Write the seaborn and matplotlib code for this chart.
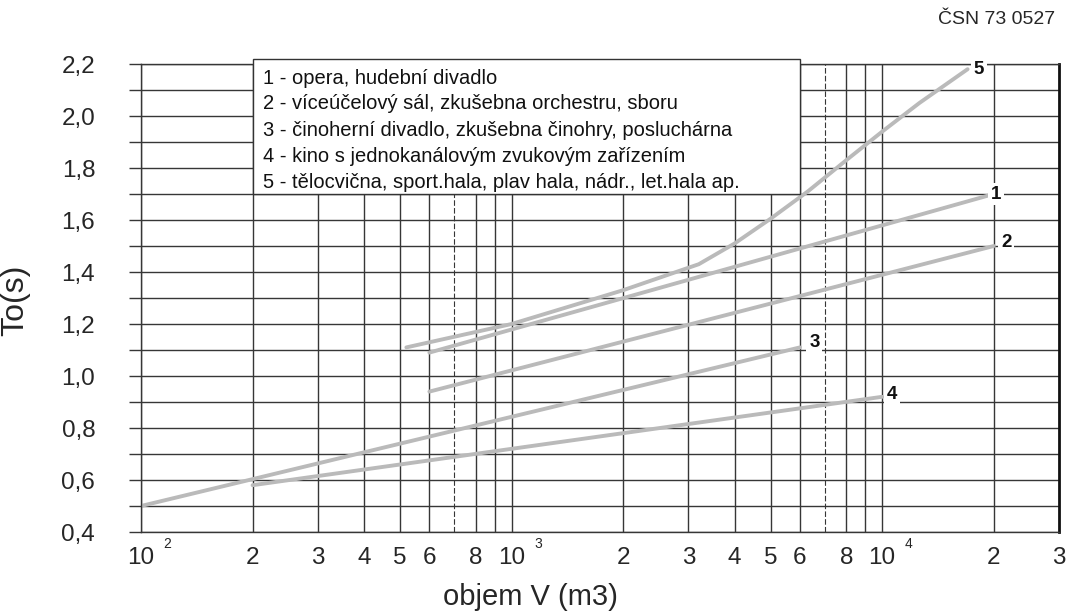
import numpy as np
import pandas as pd
import matplotlib
matplotlib.use("Agg")
import matplotlib.pyplot as plt
import seaborn as sns
from matplotlib.patches import Rectangle

# ---------------- data ----------------
curve_ids = ["1", "2", "3", "4", "5"]
curve_names = [
    "1 - opera, hudební divadlo",
    "2 - víceúčelový sál, zkušebna orchestru, sboru",
    "3 - činoherní divadlo, zkušebna činohry, posluchárna",
    "4 - kino s jednokanálovým zvukovým zařízením",
    "5 - tělocvična, sport.hala, plav hala, nádr., let.hala ap.",
]
v1 = [600, 20000]
t1 = [1.09, 1.70]
v2 = [600, 20000]
t2 = [0.94, 1.50]
v3 = [100, 6000]
t3 = [0.50, 1.11]
v4 = [200, 10000]
t4 = [0.58, 0.92]
v5 = [520, 1000, 2000, 3200, 4000, 5000, 6300, 8000, 10000, 12600, 17000]
t5 = [1.11, 1.20, 1.33, 1.43, 1.51, 1.605, 1.71, 1.83, 1.94, 2.05, 2.18]

# label anchor positions for curve numbers
label_v = [20300, 21600, 6560, 10600, 18200]
label_t = [1.70, 1.515, 1.127, 0.927, 2.18]

x_ticks = [100, 200, 300, 400, 500, 600, 800,
           1000, 2000, 3000, 4000, 5000, 6000, 8000,
           10000, 20000, 30000]
x_tick_labels = ["10", "2", "3", "4", "5", "6", "8",
                 "10", "2", "3", "4", "5", "6", "8",
                 "10", "2", "3"]
decade_values = [100, 1000, 10000]
decade_sups = ["2", "3", "4"]
y_ticks = [0.4, 0.6, 0.8, 1.0, 1.2, 1.4, 1.6, 1.8, 2.0, 2.2]
y_tick_labels = ["0,4", "0,6", "0,8", "1,0", "1,2", "1,4", "1,6", "1,8", "2,0", "2,2"]

# ---------------- figure ----------------
sns.set_theme(style="white")
plt.rcParams["font.family"] = ["Liberation Sans", "DejaVu Sans"]

fig = plt.figure(figsize=(10.75, 6.14), dpi=100)
ax = fig.add_axes([141 / 1075, 1 - 532 / 614, (1059 - 141) / 1075, (532 - 64) / 614])
ax.set_xscale("log")
ax.set_xlim(100, 30000)
ax.set_ylim(0.4, 2.2)

grid_c = "#363636"
# vertical grid: every 1..9 x 10^k
grid_x = [m * 10 ** d for d in (2, 3) for m in range(1, 10)] + [10000, 20000]
for gx in grid_x:
    m = round(gx / 10 ** int(np.floor(np.log10(gx) + 1e-9)))
    if m == 7:
        ax.axvline(gx, color=grid_c, lw=0.8, ls=(0, (5, 2)), zorder=1)
    else:
        ax.axvline(gx, color=grid_c, lw=1.0, zorder=1)
# horizontal grid every 0.1
for gy in np.round(np.arange(0.4, 2.21, 0.1), 2):
    ax.axhline(gy, color=grid_c, lw=1.0, zorder=1)

# curves
frames = []
for cid, vv, tt in zip(curve_ids, [v1, v2, v3, v4, v5], [t1, t2, t3, t4, t5]):
    frames.append(pd.DataFrame({"V": vv, "T": tt, "curve": cid}))
df = pd.concat(frames, ignore_index=True)
sns.lineplot(data=df, x="V", y="T", units="curve", estimator=None, sort=False,
             color="#bababa", lw=2.8, ax=ax, zorder=2.5, legend=False)

# curve number labels
for cid, lv, lt in zip(curve_ids, label_v, label_t):
    ax.text(lv, lt, cid, ha="center", va="center", fontsize=13.5, fontweight="bold",
            color="#111111", zorder=4,
            bbox=dict(boxstyle="square,pad=0.15", fc="white", ec="none"))

# legend box
ax.add_patch(Rectangle((200, 1.70), 6000 - 200, 0.52, facecolor="white",
                       edgecolor="#333333", lw=1.0, zorder=3, clip_on=False))
row_t = [2.146, 2.05, 1.946, 1.846, 1.746]
for name, rt in zip(curve_names, row_t):
    ax.text(214, rt, name, ha="left", va="center", fontsize=14.5, color="#111111", zorder=4)

# ticks
ax.set_xticks(x_ticks)
ax.set_xticklabels(x_tick_labels, fontsize=17.5)
ax.xaxis.set_minor_locator(matplotlib.ticker.NullLocator())
ax.tick_params(axis="x", length=0, pad=11)
for dv, sup in zip(decade_values, decade_sups):
    ax.annotate(sup, xy=(dv, 0), xycoords=("data", "axes fraction"),
                xytext=(19, -9), textcoords="offset points",
                ha="center", va="center", fontsize=10)

all_y = np.round(np.arange(0.4, 2.21, 0.1), 2)
ax.set_yticks(all_y)
ax.set_yticklabels([y_tick_labels[y_ticks.index(v)] if v in y_ticks else "" for v in all_y],
                   fontsize=17.5)
ax.tick_params(axis="y", length=9, width=1.0, color=grid_c, pad=24, direction="out", left=True)

for side in ["left", "top", "bottom"]:
    ax.spines[side].set_color(grid_c)
    ax.spines[side].set_linewidth(1.0)
ax.spines["right"].set_color("#111111")
ax.spines["right"].set_linewidth(2.0)

ax.set_xlabel("objem V (m3)", fontsize=21)
ax.set_ylabel("To(s)", fontsize=23)
ax.xaxis.set_label_coords((530 - 141) / 918, (532 - 583) / 468)
ax.yaxis.set_label_coords((30 - 141) / 918, 0.496)

fig.text(938 / 1075, 1 - 20 / 614, "ČSN 73 0527", ha="left", va="center", fontsize=14)

fig.savefig("out.png", dpi=100)
